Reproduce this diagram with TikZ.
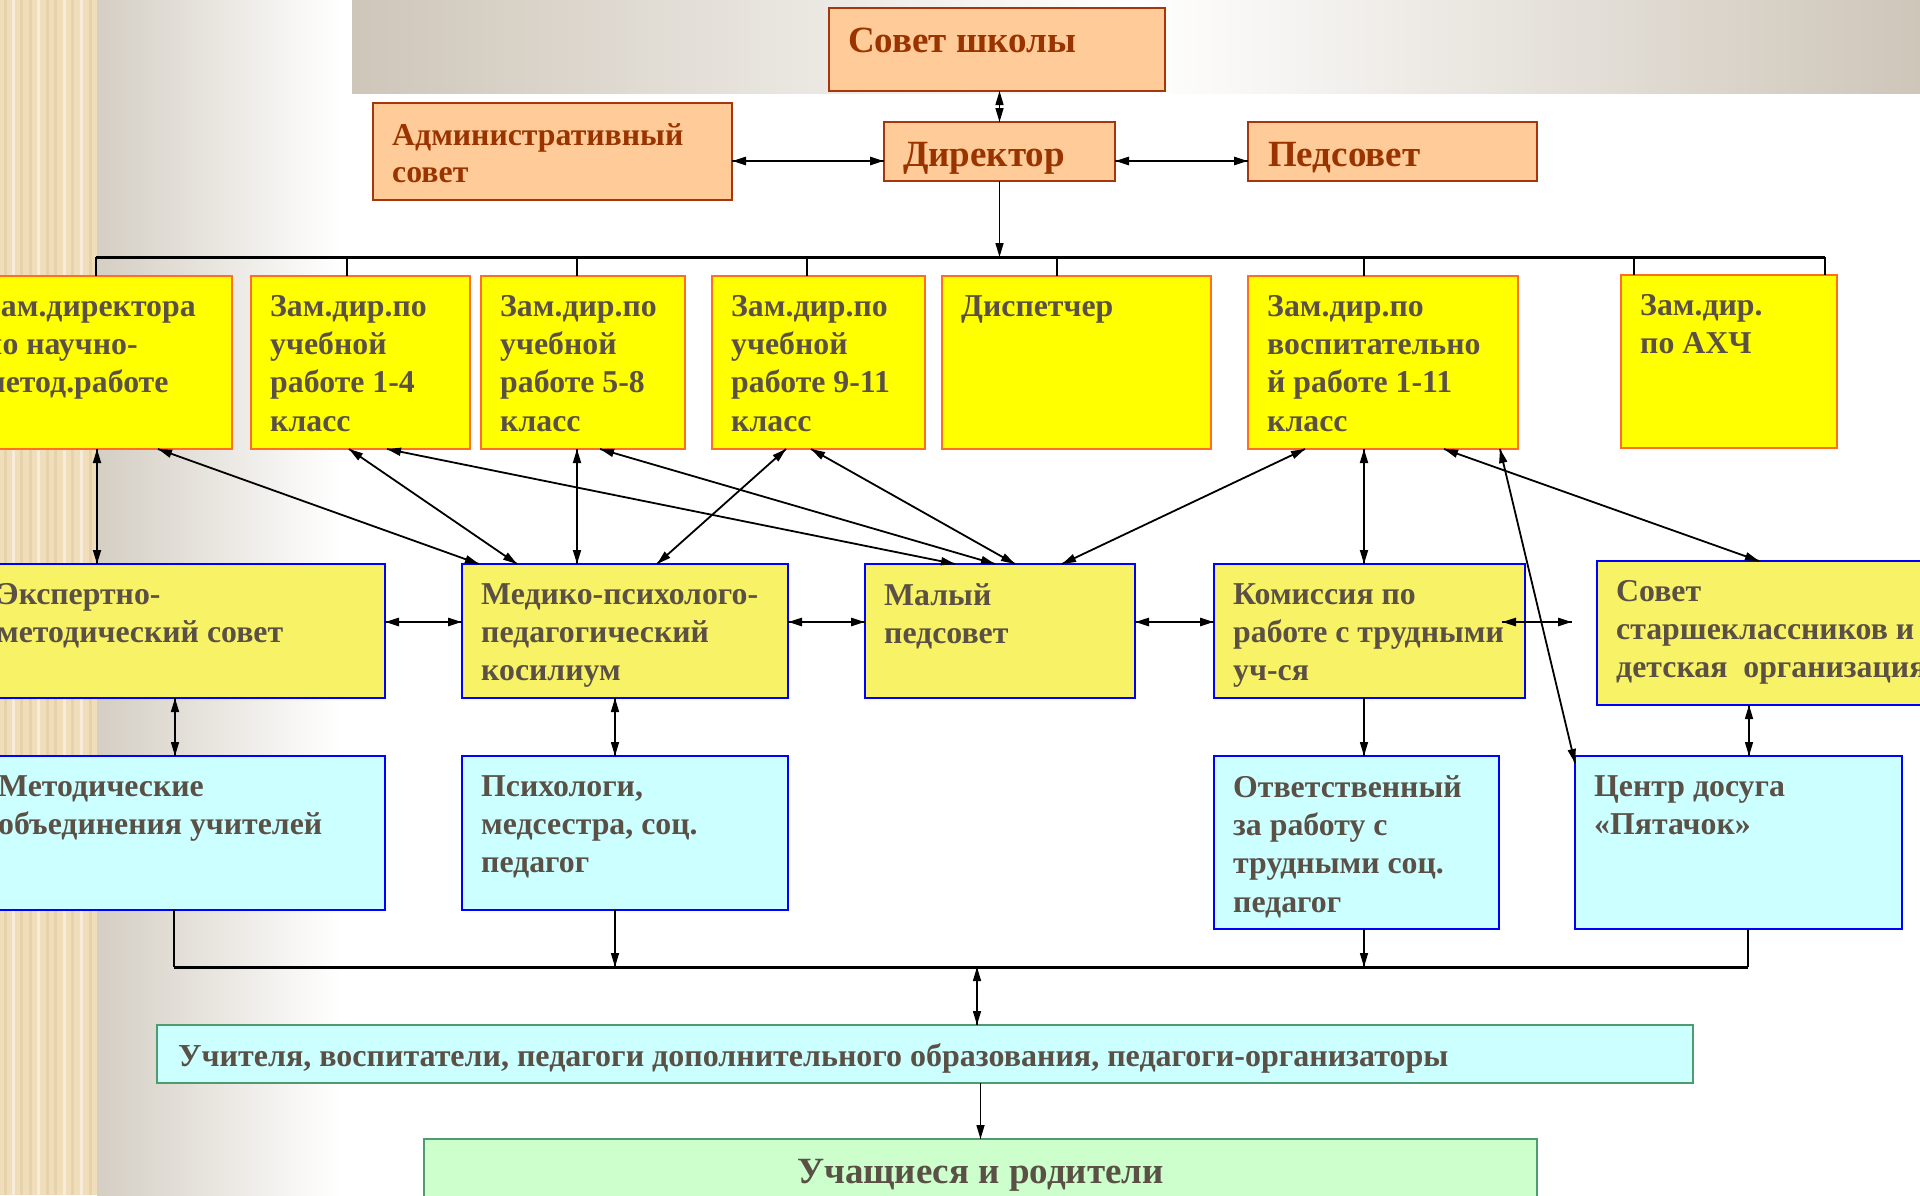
\documentclass[tikz,border=0pt]{standalone}
\usepackage{fontspec}
\setmainfont{Liberation Serif}
\usepackage{tikz}
\usetikzlibrary{decorations.markings}
\usetikzlibrary{arrows.meta}
\definecolor{melocoton}{RGB}{255,204,153}
\definecolor{ladrillo}{RGB}{165,55,10}
\definecolor{textoladrillo}{RGB}{153,51,0}
\definecolor{amarillo}{RGB}{255,255,0}
\definecolor{naranja}{RGB}{255,112,30}
\definecolor{amarillosuave}{RGB}{248,242,102}
\definecolor{azul}{RGB}{0,0,255}
\definecolor{celeste}{RGB}{204,255,255}
\definecolor{verdeborde}{RGB}{76,156,112}
\definecolor{verdeclaro}{RGB}{204,255,204}
\definecolor{textogris}{RGB}{90,80,70}
\definecolor{madera}{RGB}{240,222,186}
\definecolor{maderaosc}{RGB}{222,198,154}
\definecolor{grisfondo}{RGB}{212,206,195}
\definecolor{grisbanda}{RGB}{206,198,185}
\tikzset{
  enlace/.style={
    line width=1.8pt,
    postaction={decorate, decoration={
      markings,
      mark=at position 1 with {\arrow{Triangle[length=14pt,width=8pt]}}
    }}
  },
  enlacedoble/.style={
    enlace,
    postaction={decorate, decoration={
      markings,
      mark=at position 0 with {\arrowreversed{Triangle[length=14pt,width=8pt]}}
    }}
  },
  enlacegrueso/.style={enlacedoble, line width=2.6pt}
}

\begin{document}
\begin{tikzpicture}[x=1pt, y=-1pt] % Estilos de nodos
\tikzstyle{caja} = [rectangle, draw, line width=2.5pt, anchor=north west, inner sep=0, outer sep=0] \tikzstyle{consejo} = [caja, draw=ladrillo, fill=melocoton] \tikzstyle{subdir} = [caja, draw=naranja, fill=amarillo] \tikzstyle{organo} = [caja, draw=azul, fill=amarillosuave] \tikzstyle{servicio} = [caja, draw=azul, fill=celeste] \tikzstyle{colectivo} = [caja, draw=verdeborde, fill=celeste] \tikzstyle{familia} = [caja, draw=verdeborde, fill=verdeclaro]
\tikzstyle{txtgris} = [anchor=north west, inner sep=0, align=left, text=textogris, font=\fontsize{31.8}{38.3}\selectfont\bfseries] \tikzstyle{txtladrillo} = [txtgris, text=textoladrillo] \tikzstyle{txtgrande} = [txtladrillo, font=\fontsize{37}{44}\selectfont\bfseries]
\tikzstyle{linea} = [line width=1.6pt] \tikzstyle{barra} = [line width=3pt]
\useasboundingbox (0,0) rectangle (1920,1195);
\clip (0,0) rectangle (1920,1195);
% Fondo
\fill[madera] (0,0) rectangle (97,1195);
\foreach \x/\c in {5/maderaosc, 13/white, 21/maderaosc, 30/maderaosc, 38/white, 47/maderaosc, 55/maderaosc, 64/white, 72/maderaosc, 81/white, 90/maderaosc} { \draw[\c, line width=3pt, opacity=0.45] (\x,0) -- (\x,1195); }
\shade[left color=grisfondo, right color=white] (97,0) rectangle (340,1195);
\shade[left color=grisbanda, right color=grisbanda, middle color=white] (352,0) rectangle (1920,93);
% Nodos de direccion
\node (sovet) [consejo, minimum width=336pt, minimum height=83pt] at (829,8) {}; \node (admin) [consejo, minimum width=359pt, minimum height=97pt] at (373,103) {}; \node (dir) [consejo, minimum width=231pt, minimum height=59pt] at (884,122) {}; \node (ped) [consejo, minimum width=289pt, minimum height=59pt] at (1248,122) {};
\node (tsovet) [txtgrande] at ([xshift=19pt,yshift=-20pt]sovet.north west) {Совет школы}; \node (tadmin) [txtladrillo, font=\fontsize{31.8}{37}\selectfont\bfseries] at ([xshift=19pt,yshift=-20pt]admin.north west) {Административный\\совет}; \node (tdir) [txtgrande] at ([xshift=19pt,yshift=-20pt]dir.north west) {Директор}; \node (tped) [txtgrande] at ([xshift=20pt,yshift=-20pt]ped.north west) {Педсовет};
% Nodos de subdirectores
\node (zA) [subdir, minimum width=267pt, minimum height=173pt] at (-35,276) {}; \node (zB) [subdir, minimum width=219pt, minimum height=173pt] at (251,276) {}; \node (zC) [subdir, minimum width=204pt, minimum height=173pt] at (481,276) {}; \node (zD) [subdir, minimum width=213pt, minimum height=173pt] at (712,276) {}; \node (zE) [subdir, minimum width=269pt, minimum height=173pt] at (942,276) {}; \node (zF) [subdir, minimum width=270pt, minimum height=173pt] at (1248,276) {}; \node (zG) [subdir, minimum width=216pt, minimum height=173pt] at (1621,275) {};
% Nodos de organos
\node (mH) [organo, minimum width=407pt, minimum height=134pt] at (-22,564) {}; \node (mI) [organo, minimum width=326pt, minimum height=134pt] at (462,564) {}; \node (mJ) [organo, minimum width=270pt, minimum height=134pt] at (865,564) {}; \node (mK) [organo, minimum width=311pt, minimum height=134pt] at (1214,564) {}; \node (mL) [organo, minimum width=343pt, minimum height=144pt] at (1597,561) {};
% Nodos de servicios
\node (cM) [servicio, minimum width=406pt, minimum height=154pt] at (-21,756) {}; \node (cN) [servicio, minimum width=326pt, minimum height=154pt] at (462,756) {}; \node (cO) [servicio, minimum width=285pt, minimum height=173pt] at (1214,756) {}; \node (cP) [servicio, minimum width=327pt, minimum height=173pt] at (1575,756) {};
\node (docentes) [colectivo, minimum width=1536pt, minimum height=58pt] at (157,1025) {}; \node (alumnos) [familia, minimum width=1113pt, minimum height=90pt] at (424,1139) {};
% Textos de las cajas
\foreach \n/\t in {zA/{Зам.директора\\по научно-\\метод.работе}, zB/{Зам.дир.по\\учебной\\работе 1-4\\класс}, zC/{Зам.дир.по\\учебной\\работе 5-8\\класс}, zD/{Зам.дир.по\\учебной\\работе 9-11\\класс}, zE/{Диспетчер}, zF/{Зам.дир.по\\воспитательно\\й работе 1-11\\класс}, zG/{Зам.дир.\\по АХЧ}, mH/{Экспертно-\\методический совет}, mI/{Медико-психолого-\\педагогический\\косилиум}, mJ/{Малый\\педсовет}, mK/{Комиссия по\\работе с трудными\\уч-ся}, mL/{Совет\\старшеклассников и\\детская\ \ организация}, cM/{Методические\\объединения учителей}, cN/{Психологи,\\медсестра, соц.\\педагог}, cO/{Ответственный\\за работу с\\трудными соц.\\педагог}, cP/{Центр досуга\\«Пятачок»}}{ \node (t\n) [txtgris] at ([xshift=19pt,yshift=-19pt]\n.north west) {\t}; }
\node (tdocentes) [txtgris, font=\fontsize{32}{38}\selectfont\bfseries] at ([xshift=21pt,yshift=-18pt]docentes.north west) {Учителя, воспитатели, педагоги дополнительного образования, педагоги-организаторы}; \node (talumnos) [txtgris, anchor=north, font=\fontsize{37}{44}\selectfont\bfseries] at ([yshift=-20pt]alumnos.north) {Учащиеся и родители};
% Flechas de la direccion
\coordinate (fila) at (0,161); \coordinate (barraI) at (96,257); \coordinate (barraD) at (1825,257);
\draw[enlacedoble, line width=1.5pt] (dir.north |- sovet.south) -- (dir.north); \draw[enlacegrueso] (admin.east |- fila) -- (dir.west |- fila); \draw[enlacegrueso] (dir.east |- fila) -- (ped.west |- fila);
\draw[enlace, line width=1.5pt] (dir.south) -- (dir.south |- barraI); \draw[barra] (barraI) -- (barraD);
\foreach \x/\n in {96/zA, 347/zB, 577/zC, 807/zD, 1057/zE, 1364/zF, 1634/zG, 1825/zG}{ \draw[linea] (\x,257) -- (\x,257 |- \n.north); }
% Flechas entre subdirectores y organos
\foreach \a/\da/\b/\db in {zA/132/mH/119, zA/193/mI/17, zB/98/mI/55, zB/136/mJ/90, zC/96/mI/115, zC/119/mJ/130, zD/74/mI/195, zD/99/mJ/150, zF/57/mJ/197, zF/116/mK/150, zF/196/mL/162}{ \draw[enlacedoble] ([xshift=\da pt]\a.south west) -- ([xshift=\db pt]\b.north west); }
\draw[enlacedoble] ([xshift=252pt]zF.south west) -- ([yshift=-7pt]cP.north west);
\coordinate (fila2) at (0,622);
\foreach \a/\b in {mH/mI, mI/mJ, mJ/mK}{ \draw[enlacegrueso] (\a.east |- fila2) -- (\b.west |- fila2); }
\draw[enlacegrueso] ([xshift=-23pt,yshift=9pt]mK.east) -- ([xshift=-25pt,yshift=11pt]mL.west);
\foreach \a/\da/\b/\db in {mH/197/cM/196, mI/153/cN/153, mL/152/cP/174}{ \draw[enlacedoble, line width=1.5pt] ([xshift=\da pt]\a.south west) -- ([xshift=\db pt]\b.north west); }
\draw[enlace, line width=1.5pt] ([xshift=150pt]mK.south west) -- ([xshift=150pt]cO.north west);
% Barra inferior
\coordinate (bI) at (174,967); \coordinate (bD) at (1748,967); \coordinate (bN) at (615,967); \coordinate (bO) at (1364,967); \coordinate (bC) at (977,967);
\draw[barra] (bI) -- (bD); \draw[linea] (bI |- cM.south) -- (bI); \draw[linea] (bD |- cP.south) -- (bD);
\draw[enlace, line width=1.5pt] (bN |- cN.south) -- (bN); \draw[enlace, line width=1.5pt] (bO |- cO.south) -- (bO);
\draw[enlacedoble, line width=1.5pt] (bC) -- (bC |- docentes.north); \draw[enlace, line width=1.5pt] (alumnos.north |- docentes.south) -- (alumnos.north);
\end{tikzpicture}
\end{document}
